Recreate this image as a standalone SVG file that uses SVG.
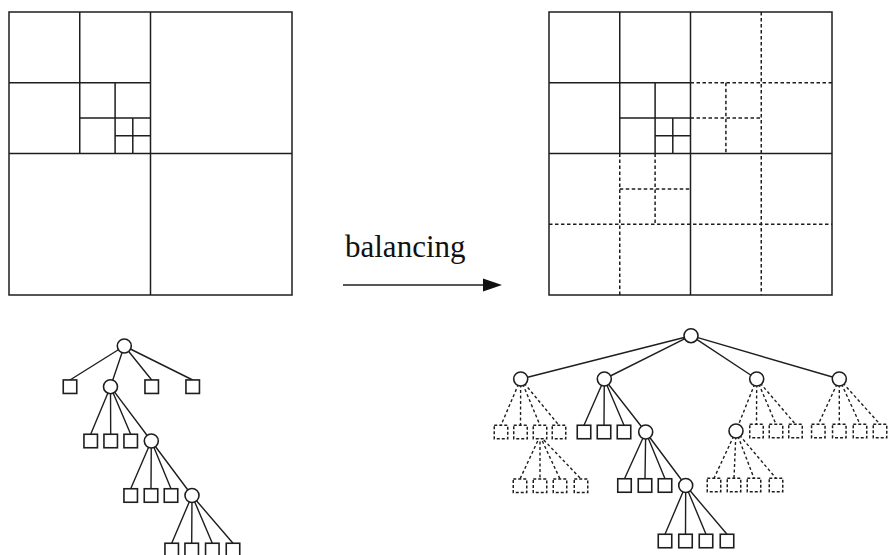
<svg xmlns="http://www.w3.org/2000/svg" width="890" height="555" viewBox="0 0 890 555">
<style>
.q{fill:none;stroke:#1e1e1e;stroke-width:1.5}
.qd{fill:none;stroke:#1e1e1e;stroke-width:1.5;stroke-dasharray:3.5 2.5}
.e{stroke:#1e1e1e;stroke-width:1.4;fill:none}
.ed{stroke:#1e1e1e;stroke-width:1.4;fill:none;stroke-dasharray:3 2.5}
.c{fill:#fff;stroke:#1e1e1e;stroke-width:1.6}
.s{fill:#fff;stroke:#1e1e1e;stroke-width:1.6}
.sd{fill:#fff;stroke:#1e1e1e;stroke-width:1.5;stroke-dasharray:3 2}
.t{font-family:"Liberation Serif","Times New Roman",serif;font-size:31px;fill:#111}
</style>
<defs>
<rect id="sq" x="-6.75" y="-6.75" width="13.5" height="13.5"/>
</defs>

<g id="quadtree-left">
<rect class="q" x="9" y="12" width="283" height="283"/>
<path class="q" d="M150.5 12V295M9 153.5H292M79.75 12V153.5M9 82.75H150.5M115.1 82.75V153.5M79.75 118.1H150.5M132.8 118.1V153.5M115.1 135.8H150.5"/>
</g>

<g id="quadtree-right">
<rect class="q" x="549" y="12" width="283" height="283"/>
<path class="q" d="M690.5 12V295M549 153.5H832M619.75 12V153.5M549 82.75H690.5M655.1 82.75V153.5M619.75 118.1H690.5M672.8 118.1V153.5M655.1 135.8H690.5"/>
<path class="qd" d="M761.25 12V295M690.5 82.75H832M725.9 82.75V153.5M690.5 118.1H761.25M619.75 153.5V295M549 224.25H832M655.1 153.5V224.25M619.75 188.9H690.5"/>
</g>

<g id="balancing-arrow">
<line class="e" x1="343" y1="285" x2="485" y2="285"/>
<polygon points="483,278.5 502,285 483,291.5" fill="#111"/>
<text class="t" x="345" y="257">balancing</text>
</g>

<g id="connectors">
<path class="e" d="M124.3 346L70 380M124.3 346L110.5 386.7M124.3 346L151.7 380M124.3 346L192.7 380
M110.5 386.7L90.7 434.3M110.5 386.7L110.7 434.3M110.5 386.7L130.7 434.3M110.5 386.7L151.3 441
M151.3 441L130.7 488.8M151.3 441L151 488.8M151.3 441L171 488.8M151.3 441L192 495.5
M192 495.5L171.7 543.3M192 495.5L191.7 543.3M192 495.5L212.3 543.3M192 495.5L233 543.3"/>
<path class="e" d="M691 335.7L520.7 379M691 335.7L604.3 379M691 335.7L756.7 379M691 335.7L839.3 379
M604.3 379L584 425.3M604.3 379L604 425.3M604.3 379L624 425.3M604.3 379L645.7 432
M645.7 432L624.5 478.8M645.7 432L645 478.8M645.7 432L665 478.8M645.7 432L685.7 485.5
M685.7 485.5L665 534.3M685.7 485.5L685.5 534.3M685.7 485.5L706 534.3M685.7 485.5L727 534.3"/>
<path class="ed" d="M520.7 379L501 425.3M520.7 379L520.5 425.3M520.7 379L540 425.3M520.7 379L559 425.3
M540 436L520 479M540 436L540 479M540 436L560 479M540 436L581 479
M756.7 379L736 431M756.7 379L756.5 424.3M756.7 379L776 424.3M756.7 379L795.5 424.3
M736 431L714 478.3M736 431L734 478.3M736 431L754 478.3M736 431L776 478.3
M839.3 379L818.3 424.3M839.3 379L839.3 424.3M839.3 379L860 424.3M839.3 379L880 424.3"/>
</g>

<g id="l-root"><circle class="c" cx="124.3" cy="346" r="7"/></g>
<g id="l-1a"><use href="#sq" class="s" x="70" y="386.7"/></g>
<g id="l-1b"><circle class="c" cx="110.5" cy="386.7" r="7"/></g>
<g id="l-1c"><use href="#sq" class="s" x="151.7" y="386.7"/></g>
<g id="l-1d"><use href="#sq" class="s" x="192.7" y="386.7"/></g>
<g id="l-2a"><use href="#sq" class="s" x="90.7" y="441"/></g>
<g id="l-2b"><use href="#sq" class="s" x="110.7" y="441"/></g>
<g id="l-2c"><use href="#sq" class="s" x="130.7" y="441"/></g>
<g id="l-2d"><circle class="c" cx="151.3" cy="441" r="7"/></g>
<g id="l-3a"><use href="#sq" class="s" x="130.7" y="495.5"/></g>
<g id="l-3b"><use href="#sq" class="s" x="151" y="495.5"/></g>
<g id="l-3c"><use href="#sq" class="s" x="171" y="495.5"/></g>
<g id="l-3d"><circle class="c" cx="192" cy="495.5" r="7"/></g>
<g id="l-4a"><use href="#sq" class="s" x="171.7" y="550"/></g>
<g id="l-4b"><use href="#sq" class="s" x="191.7" y="550"/></g>
<g id="l-4c"><use href="#sq" class="s" x="212.3" y="550"/></g>
<g id="l-4d"><use href="#sq" class="s" x="233" y="550"/></g>

<g id="r-root"><circle class="c" cx="691" cy="335.7" r="7"/></g>
<g id="r-1a"><circle class="c" cx="520.7" cy="379" r="7"/></g>
<g id="r-1b"><circle class="c" cx="604.3" cy="379" r="7"/></g>
<g id="r-1c"><circle class="c" cx="756.7" cy="379" r="7"/></g>
<g id="r-1d"><circle class="c" cx="839.3" cy="379" r="7"/></g>

<g id="r-1a-1"><use href="#sq" class="sd" x="501" y="432"/></g>
<g id="r-1a-2"><use href="#sq" class="sd" x="520.5" y="432"/></g>
<g id="r-1a-3"><use href="#sq" class="sd" x="540" y="432"/></g>
<g id="r-1a-4"><use href="#sq" class="sd" x="559" y="432"/></g>
<g id="r-1a-3-1"><use href="#sq" class="sd" x="520" y="485.7"/></g>
<g id="r-1a-3-2"><use href="#sq" class="sd" x="540" y="485.7"/></g>
<g id="r-1a-3-3"><use href="#sq" class="sd" x="560" y="485.7"/></g>
<g id="r-1a-3-4"><use href="#sq" class="sd" x="581" y="485.7"/></g>

<g id="r-1b-1"><use href="#sq" class="s" x="584" y="432"/></g>
<g id="r-1b-2"><use href="#sq" class="s" x="604" y="432"/></g>
<g id="r-1b-3"><use href="#sq" class="s" x="624" y="432"/></g>
<g id="r-1b-4"><circle class="c" cx="645.7" cy="432" r="7"/></g>
<g id="r-1b-4-1"><use href="#sq" class="s" x="624.5" y="485.5"/></g>
<g id="r-1b-4-2"><use href="#sq" class="s" x="645" y="485.5"/></g>
<g id="r-1b-4-3"><use href="#sq" class="s" x="665" y="485.5"/></g>
<g id="r-1b-4-4"><circle class="c" cx="685.7" cy="485.5" r="7"/></g>
<g id="r-1b-4-4-1"><use href="#sq" class="s" x="665" y="541"/></g>
<g id="r-1b-4-4-2"><use href="#sq" class="s" x="685.5" y="541"/></g>
<g id="r-1b-4-4-3"><use href="#sq" class="s" x="706" y="541"/></g>
<g id="r-1b-4-4-4"><use href="#sq" class="s" x="727" y="541"/></g>

<g id="r-1c-1"><circle class="c" cx="736" cy="431" r="7"/></g>
<g id="r-1c-2"><use href="#sq" class="sd" x="756.5" y="431"/></g>
<g id="r-1c-3"><use href="#sq" class="sd" x="776" y="431"/></g>
<g id="r-1c-4"><use href="#sq" class="sd" x="795.5" y="431"/></g>
<g id="r-1c-1-1"><use href="#sq" class="sd" x="714" y="485"/></g>
<g id="r-1c-1-2"><use href="#sq" class="sd" x="734" y="485"/></g>
<g id="r-1c-1-3"><use href="#sq" class="sd" x="754" y="485"/></g>
<g id="r-1c-1-4"><use href="#sq" class="sd" x="776" y="485"/></g>

<g id="r-1d-1"><use href="#sq" class="sd" x="818.3" y="431"/></g>
<g id="r-1d-2"><use href="#sq" class="sd" x="839.3" y="431"/></g>
<g id="r-1d-3"><use href="#sq" class="sd" x="860" y="431"/></g>
<g id="r-1d-4"><use href="#sq" class="sd" x="880" y="431"/></g>
</svg>
